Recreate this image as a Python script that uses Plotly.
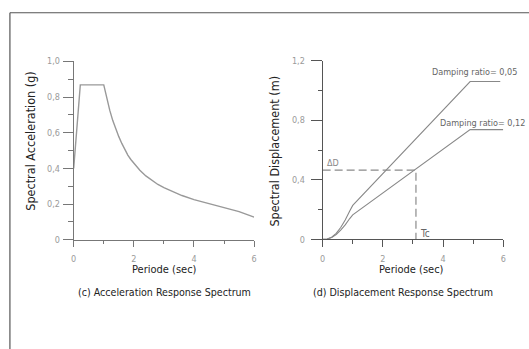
import plotly.graph_objects as go

W, H = 529, 349

# ---- data: acceleration response spectrum ----
acc_period = [0, 0.22, 1.0, 1.1, 1.2, 1.3, 1.4, 1.5, 1.6, 1.7, 1.8, 1.9, 2.0, 2.2, 2.4, 2.6, 2.8, 3.0,
              3.3, 3.6, 4.0, 4.5, 5.0, 5.5, 6.0]
acc_sa = [0.40, 0.868, 0.868, 0.79, 0.725, 0.668, 0.62, 0.578, 0.54, 0.505, 0.475, 0.45, 0.428, 0.39,
          0.358, 0.332, 0.31, 0.292, 0.268, 0.248, 0.225, 0.202, 0.182, 0.158, 0.127]

# ---- data: displacement response spectrum ----
disp_period_005 = [0, 0.15, 0.3, 0.45, 0.6, 0.75, 0.9, 1.0, 4.9, 5.9]
disp_sd_005 = [0, 0.003, 0.015, 0.04, 0.08, 0.13, 0.19, 0.228, 1.06, 1.06]
disp_period_012 = [0, 0.15, 0.3, 0.45, 0.6, 0.75, 0.9, 1.0, 4.9, 6.0]
disp_sd_012 = [0, 0.003, 0.013, 0.033, 0.062, 0.097, 0.14, 0.165, 0.737, 0.737]
delta_d = 0.465
t_c = 3.1

# ---- tick labels ----
x_ticks = [0, 2, 4, 6]
x_ticklabels = ["0", "2", "4", "6"]
acc_yticks = [0, 0.2, 0.4, 0.6, 0.8, 1.0]
acc_yticklabels = ["0", "0,2", "0,4", "0,6", "0,8", "1,0"]
disp_yticks = [0, 0.4, 0.8, 1.2]
disp_yticklabels = ["0", "0,4", "0,8", "1,2"]

NARROW = "Liberation Sans Narrow, Arial Narrow, DejaVu Sans Condensed, sans-serif"

def px(x):
    return x / W

def py(y):
    return 1 - y / H

fig = go.Figure()
fig.add_trace(go.Scatter(x=acc_period, y=acc_sa, mode="lines",
                         line=dict(color="#999999", width=1.4),
                         xaxis="x", yaxis="y", cliponaxis=False, showlegend=False))
fig.add_trace(go.Scatter(x=disp_period_005, y=disp_sd_005, mode="lines",
                         line=dict(color="#888888", width=1.1),
                         xaxis="x2", yaxis="y2", cliponaxis=False, showlegend=False))
fig.add_trace(go.Scatter(x=disp_period_012, y=disp_sd_012, mode="lines",
                         line=dict(color="#888888", width=1.1),
                         xaxis="x2", yaxis="y2", cliponaxis=False, showlegend=False))
fig.add_trace(go.Scatter(x=[0, t_c, t_c], y=[delta_d, delta_d, 0], mode="lines",
                         line=dict(color="#8a8a8a", width=1.2, dash="8px,4px"),
                         xaxis="x2", yaxis="y2", cliponaxis=False, showlegend=False))

common_axis = dict(showline=True, showgrid=False, zeroline=False, ticks="outside",
                   tickfont=dict(family=NARROW, size=9, color="#9a9a9a"))

fig.update_layout(
    width=W, height=H, margin=dict(l=0, r=0, t=0, b=0),
    paper_bgcolor="white", plot_bgcolor="white", showlegend=False,
    xaxis=dict(domain=[px(71.5), px(254)], range=[0, 6], anchor="y",
               tickvals=x_ticks, ticktext=x_ticklabels, ticklen=6, tickcolor="#777777",
               linecolor="#777777", ticklabelstandoff=4,
               minor=dict(dtick=1, ticklen=3, ticks="outside", tickcolor="#777777"),
               **common_axis),
    yaxis=dict(domain=[py(241.7), py(58)], range=[0, 1], anchor="x",
               tickvals=acc_yticks, ticktext=acc_yticklabels, ticklen=10, tickcolor="#777777",
               linecolor="#777777", ticklabelstandoff=1,
               minor=dict(dtick=0.1, ticklen=5, ticks="outside", tickcolor="#777777"),
               **common_axis),
    xaxis2=dict(domain=[px(323.3), px(506)], range=[0, 6], anchor="y2",
                tickvals=x_ticks, ticktext=x_ticklabels, ticklen=7, tickcolor="#555555",
                linecolor="#555555", ticklabelstandoff=4,
                minor=dict(dtick=1, ticklen=4, ticks="outside", tickcolor="#555555"),
                **common_axis),
    yaxis2=dict(domain=[py(241.3), py(57.3)], range=[0, 1.2], anchor="x2",
                tickvals=disp_yticks, ticktext=disp_yticklabels, ticklen=11, tickcolor="#555555",
                linecolor="#555555", ticklabelstandoff=4,
                minor=dict(dtick=0.2, ticklen=4, ticks="outside", tickcolor="#555555"),
                **common_axis),
)

def ann(text, x, y, size=12, color="#222222", angle=0, xanchor="center"):
    fig.add_annotation(text=text, x=px(x), y=py(y), xref="paper", yref="paper",
                       showarrow=False, textangle=angle, xanchor=xanchor, yanchor="middle",
                       font=dict(family=NARROW, size=size, color=color))

ann("Spectral Acceleration (g)", 28, 140, size=12.5, angle=-90)
ann("Spectral Displacement (m)", 275, 150, size=12.5, angle=-90)
ann("Periode (sec)", 163, 272, size=11)
ann("Periode (sec)", 413, 272, size=11)
ann("(c) Acceleration Response Spectrum", 163, 295, size=10.6)
ann("(d) Displacement Response Spectrum", 405, 295, size=10.6)
ann("ΔD", 326, 163, size=9, color="#888888", xanchor="left")
ann("Tc", 420, 235, size=10, color="#666666", xanchor="left")
ann("Damping ratio= 0,05", 477, 69, size=9, color="#666666")
ann("Damping ratio= 0,12", 485, 121, size=9, color="#666666")

# outer frame (extends beyond the cropped picture)
fig.add_shape(type="line", xref="paper", yref="paper", x0=px(7), y0=py(8), x1=px(540), y1=py(8),
              line=dict(color="#555555", width=1.2))
fig.add_shape(type="line", xref="paper", yref="paper", x0=px(7), y0=py(8), x1=px(7), y1=py(360),
              line=dict(color="#555555", width=1.2))

fig.write_html("out.html", config={"displayModeBar": False},
               post_script="document.body.style.margin='0';document.body.style.overflow='hidden';")
